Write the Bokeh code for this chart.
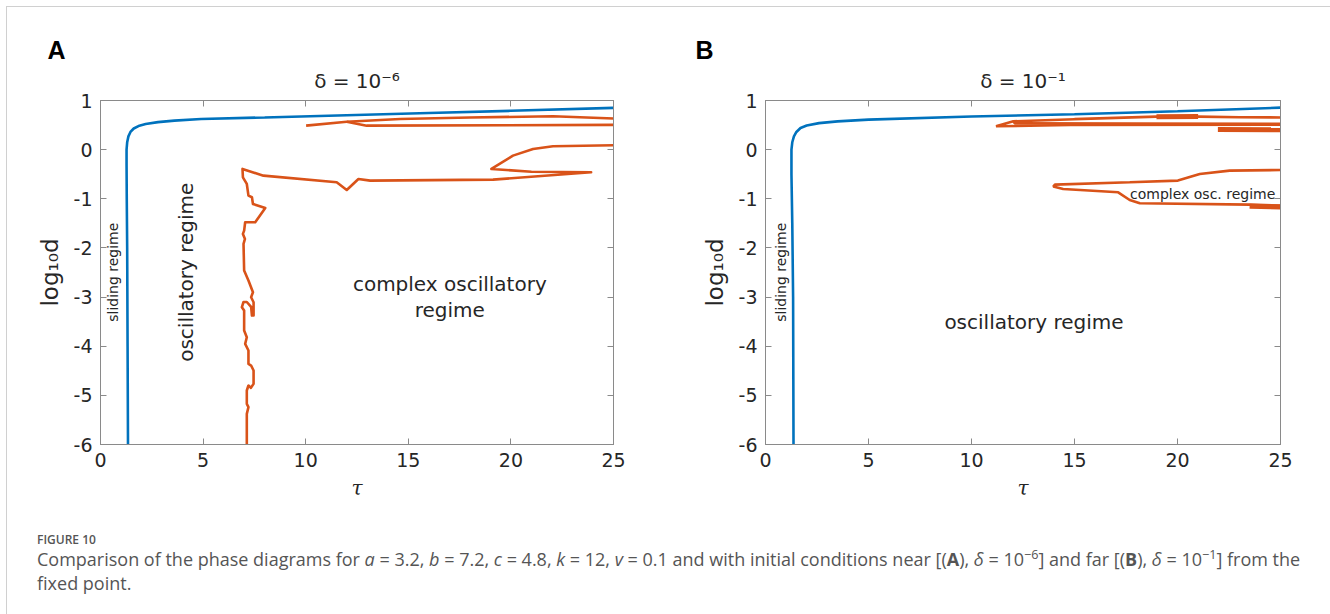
import math
from bokeh.plotting import figure
from bokeh.models import Range1d, FixedTicker, LinearAxis, Label, Div, Title
from bokeh.layouts import row, column
from bokeh.embed import file_html
from bokeh.resources import INLINE

# ---------------- data ----------------
x_ticks = [0, 5, 10, 15, 20, 25]
y_ticks = [1, 0, -1, -2, -3, -4, -5, -6]

# Panel A  (delta = 1e-6): boundary sliding / oscillatory (blue)
a_blue_tau = [1.34, 1.32, 1.30, 1.28, 1.27, 1.27, 1.30, 1.36, 1.46, 1.62, 1.85, 2.2, 2.8, 3.6, 4.9, 8.0, 12.0, 16.0, 20.0, 25.0]
a_blue_logd = [-6.0, -4.0, -2.0, -1.0, -0.3, 0.0, 0.15, 0.27, 0.36, 0.43, 0.48, 0.52, 0.56, 0.59, 0.625, 0.655, 0.70, 0.745, 0.79, 0.85]

# Panel A: boundary oscillatory / complex oscillatory (orange), upper thin loop
a_r1_tau = [10.02, 12.0, 14.6, 18.0, 22.05, 25.0]
a_r1_logd = [0.488, 0.569, 0.624, 0.655, 0.678, 0.635]
a_r2_tau = [12.0, 12.97, 25.0]
a_r2_logd = [0.569, 0.488, 0.505]

# Panel A: main orange boundary
a_r3_tau = [25.0, 22.05, 21.08, 20.1, 19.05, 21.0, 23.91, 19.13, 13.14, 12.57, 12.0, 11.51, 7.94, 6.92,
            6.94, 7.13, 7.21, 7.38, 7.43, 8.03, 7.54, 7.05, 7.00, 6.94, 7.04, 6.97, 7.00, 7.21, 7.43, 7.34,
            7.46, 7.46, 7.38, 7.34, 7.13, 6.97, 6.89, 7.00, 7.00, 7.13, 7.05, 7.21, 7.21, 7.34, 7.46, 7.46,
            7.33, 7.21, 7.13, 7.13, 7.21, 7.13, 7.13]
a_r3_logd = [0.09, 0.068, 0.014, -0.122, -0.393, -0.45, -0.461, -0.61, -0.63, -0.597, -0.82, -0.664, -0.529, -0.393,
             -0.563, -0.698, -0.935, -0.969, -1.105, -1.186, -1.478, -1.478, -1.647, -1.715, -1.817, -1.918, -2.461, -2.664, -2.902, -3.003,
             -3.105, -3.376, -3.376, -3.2, -3.1, -3.1, -3.206, -3.274, -3.681, -3.817, -3.952, -4.088, -4.359, -4.393, -4.495, -4.766,
             -4.847, -4.8, -4.901, -5.173, -5.24, -5.376, -6.0]

# Panel B  (delta = 1e-1)
b_blue_tau = [1.36, 1.34, 1.30, 1.26, 1.26, 1.30, 1.38, 1.50, 1.70, 2.0, 2.6, 3.5, 5.0, 10.0, 15.0, 20.0, 25.0]
b_blue_logd = [-6.0, -3.0, -1.5, -0.5, 0.0, 0.15, 0.27, 0.36, 0.44, 0.49, 0.54, 0.575, 0.61, 0.675, 0.72, 0.78, 0.855]

b_r1_tau = [25.0, 23.0, 21.0, 18.98, 15.0, 12.03, 11.19, 14.8, 25.0]
b_r1_logd = [0.655, 0.66, 0.672, 0.671, 0.62, 0.576, 0.475, 0.50, 0.51]
b_r2_tau = [12.03, 12.1, 18.0, 25.0]
b_r2_logd = [0.576, 0.535, 0.53, 0.525]
b_thick1_tau = [18.98, 21.0]
b_thick1_logd = [0.671, 0.672]
b_thick2_tau = [21.96, 25.0]
b_thick2_logd = [0.41, 0.405]

b_r3_tau = [25.0, 22.53, 21.08, 20.02, 17.68, 14.05, 13.97, 14.45, 17.12, 17.68, 18.17, 23.5, 25.0]
b_r3_logd = [-0.414, -0.427, -0.495, -0.63, -0.664, -0.712, -0.752, -0.8, -0.868, -1.024, -1.092, -1.119, -1.139]
b_thick3_tau = [23.5, 25.0]
b_thick3_logd = [-1.15, -1.165]

BLUE = "#0072BD"
ORANGE = "#D95319"
AX = "#8a8a8a"
TXT = "#262626"
LW = 2.6
OFF = 7          # layout offset inside the page
FRAME_TOP, FRAME_H = 100, 344


def make_panel(width, border_left, border_right, frame_left_page, frame_w, title_txt, letter, letter_off):
    p = figure(width=width, height=500, output_backend="svg", toolbar_location=None,
               x_range=Range1d(0, 25), y_range=Range1d(-6, 1), title_location=None,
               min_border_left=border_left, min_border_right=border_right,
               min_border_top=FRAME_TOP - OFF, min_border_bottom=500 - (FRAME_TOP - OFF) - FRAME_H)
    p.xgrid.visible = False
    p.ygrid.visible = False
    p.outline_line_color = AX
    p.outline_line_width = 1
    p.background_fill_color = "white"
    p.border_fill_color = "white"
    for ax in (p.xaxis[0], p.yaxis[0]):
        ax.axis_line_color = AX
        ax.major_tick_line_color = AX
        ax.major_tick_in = 6
        ax.major_tick_out = 0
        ax.minor_tick_line_color = None
        ax.major_label_text_font = "DejaVu Sans"
        ax.major_label_text_font_size = "19px"
        ax.major_label_text_color = TXT
        ax.major_label_standoff = 8
        ax.axis_label_text_color = TXT
        ax.axis_label_text_font = "DejaVu Sans"
        ax.axis_label_text_font_style = "normal"
    p.xaxis[0].ticker = FixedTicker(ticks=x_ticks)
    p.yaxis[0].ticker = FixedTicker(ticks=y_ticks)
    p.yaxis[0].major_label_overrides = {t: str(t) for t in y_ticks}
    p.xaxis[0].major_label_overrides = {t: str(t) for t in x_ticks}
    p.xaxis[0].axis_label = "τ"
    p.xaxis[0].axis_label_text_font = "DejaVu Serif"
    p.xaxis[0].axis_label_text_font_style = "italic"
    p.xaxis[0].axis_label_text_font_size = "20px"
    p.xaxis[0].axis_label_standoff = 6
    p.yaxis[0].axis_label = "log₁₀d"
    p.yaxis[0].axis_label_text_font_size = "23px"
    p.yaxis[0].axis_label_standoff = 8
    # mirrored ticks on top (carrying the panel title) and right
    top = LinearAxis(ticker=FixedTicker(ticks=x_ticks), major_tick_in=6, major_tick_out=0,
                     major_label_overrides={t: "" for t in x_ticks}, major_label_standoff=0,
                     axis_line_color=AX, major_tick_line_color=AX, minor_tick_line_color=None,
                     axis_label=title_txt, axis_label_text_font="DejaVu Sans",
                     axis_label_text_font_style="normal", axis_label_text_font_size="20px",
                     axis_label_text_color=TXT, axis_label_standoff=8)
    right = LinearAxis(ticker=FixedTicker(ticks=y_ticks), major_tick_in=6, major_tick_out=0,
                       major_label_overrides={t: "" for t in y_ticks}, major_label_standoff=0,
                       axis_line_color=AX, major_tick_line_color=AX, minor_tick_line_color=None)
    p.add_layout(top, "above")
    p.add_layout(right, "right")
    p.add_layout(Title(text=letter, align="left", offset=letter_off, text_font="Liberation Sans",
                       text_font_style="bold", text_font_size="25px", text_color="black",
                       standoff=4), "above")

    def X(px):
        return (px - frame_left_page) * 25.0 / frame_w

    def Y(py):
        return 1.0 - (py - FRAME_TOP) * 7.0 / FRAME_H

    return p, X, Y


def lab(p, x, y, text, size, angle=0.0, align="center", baseline="middle",
        font="DejaVu Sans", style="normal", color=TXT):
    p.add_layout(Label(x=x, y=y, text=text, text_font_size=size, angle=angle,
                       text_align=align, text_baseline=baseline, text_font=font,
                       text_font_style=style, text_color=color))


# ---------------- panel A ----------------
pA, XA, YA = make_panel(672, 100 - OFF, 66, 100, 514, "δ = 10⁻⁶", "A", -53)
pA.line(a_blue_tau, a_blue_logd, line_color=BLUE, line_width=LW)
pA.line(a_r1_tau, a_r1_logd, line_color=ORANGE, line_width=LW)
pA.line(a_r2_tau, a_r2_logd, line_color=ORANGE, line_width=LW)
pA.line(a_r3_tau, a_r3_logd, line_color=ORANGE, line_width=LW, line_join="round")
lab(pA, XA(113), YA(271.7), "sliding regime", "14px", angle=math.pi / 2)
lab(pA, XA(186), YA(271.7), "oscillatory regime", "20px", angle=math.pi / 2)
lab(pA, XA(450), YA(283), "complex oscillatory", "20px")
lab(pA, XA(450), YA(309), "regime", "20px")

# ---------------- panel B ----------------
pB, XB, YB = make_panel(642, 765 - 672 - OFF, 41, 765, 516, "δ = 10⁻¹", "B", -70)
pB.line(b_blue_tau, b_blue_logd, line_color=BLUE, line_width=LW)
pB.line(b_r1_tau, b_r1_logd, line_color=ORANGE, line_width=LW)
pB.line(b_r2_tau, b_r2_logd, line_color=ORANGE, line_width=LW)
pB.line(b_thick1_tau, b_thick1_logd, line_color=ORANGE, line_width=5)
pB.line(b_thick2_tau, b_thick2_logd, line_color=ORANGE, line_width=5)
pB.line(b_r3_tau, b_r3_logd, line_color=ORANGE, line_width=LW)
pB.line(b_thick3_tau, b_thick3_logd, line_color=ORANGE, line_width=5)
lab(pB, XB(781), YB(271.7), "sliding regime", "14px", angle=math.pi / 2)
lab(pB, XB(1034), YB(321), "oscillatory regime", "20px")
lab(pB, XB(1203), YB(193.5), "complex osc. regime", "14px")

# ---------------- caption ----------------
cap_html = (
    "<div style=\"font-family:'Open Sans',sans-serif;color:#555555;padding-left:25px;\">"
    "<div style=\"font-size:12px;font-weight:600;line-height:14px;margin-top:21px;color:#555;\">FIGURE 10</div>"
    "<div style=\"font-size:18px;line-height:24px;white-space:nowrap;\">"
    "Comparison of the phase diagrams for <i>a</i> = 3.2, <i>b</i> = 7.2, "
    "<i>c</i> = 4.8, <i>k</i> = 12, <i>v</i> = 0.1 and with initial "
    "conditions near [(<b>A</b>), <i>δ</i> = 10<sup style=\"font-size:70%;line-height:0\">−6</sup>] "
    "and far [(<b>B</b>), <i>δ</i> = 10<sup style=\"font-size:70%;line-height:0\">−1</sup>] from the<br>"
    "fixed point.</div></div>"
)
cap = Div(text=cap_html, width=1314, height=98)

layout = column(row(pA, pB), cap,
                styles={"margin-left": f"{OFF}px", "margin-top": f"{OFF}px",
                        "outline": "1px solid #d0d0d0", "outline-offset": "0px"})

open("out.html", "w").write(file_html(layout, INLINE))
